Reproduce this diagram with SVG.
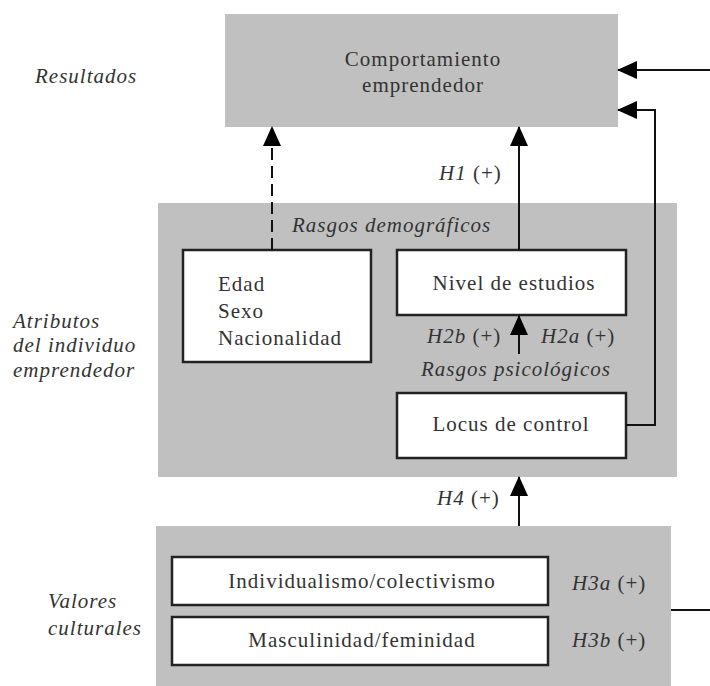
<svg xmlns="http://www.w3.org/2000/svg" width="710" height="686" viewBox="0 0 710 686" font-family="Liberation Serif, DejaVu Serif, serif">
<style>
text{font-size:21px;fill:#333;letter-spacing:1px}
.it{font-style:italic}
.grp{fill:#c0c0c0}
.box{fill:#fff;stroke:#222;stroke-width:2.5}
.ln{fill:none;stroke:#111;stroke-width:2}
.mid{text-anchor:middle}
</style>
<defs>
<marker id="ah" markerUnits="userSpaceOnUse" markerWidth="20" markerHeight="18" viewBox="0 0 20 18" refX="19" refY="9" orient="auto">
<path d="M0,0 L20,9 L0,18 Z" fill="#000"/>
</marker>
</defs>
<g id="labels">
<text class="it" x="35" y="83">Resultados</text>
<text class="it" x="13" y="328">Atributos</text>
<text class="it" x="13" y="352">del individuo</text>
<text class="it" x="13" y="377">emprendedor</text>
<text class="it" x="48" y="608">Valores</text>
<text class="it" x="48" y="635">culturales</text>
</g>
<g id="resultados">
<rect class="grp" x="225" y="14" width="393" height="113"/>
<text class="mid" x="423" y="66">Comportamiento</text>
<text class="mid" x="423" y="92">emprendedor</text>
</g>
<g id="atributos">
<rect class="grp" x="158" y="203" width="519" height="274"/>
<text class="it" x="292" y="232">Rasgos demográficos</text>
<text class="it" x="421" y="376">Rasgos psicológicos</text>
</g>
<g id="demograficos">
<rect class="box" x="183" y="250" width="188" height="112"/>
<text x="218" y="291">Edad</text>
<text x="218" y="318">Sexo</text>
<text x="218" y="345">Nacionalidad</text>
</g>
<g id="nivel">
<rect class="box" x="397" y="250" width="229" height="65"/>
<text class="mid" x="514" y="290">Nivel de estudios</text>
</g>
<g id="locus">
<rect class="box" x="397" y="393" width="229" height="65"/>
<text class="mid" x="511" y="431">Locus de control</text>
</g>
<g id="valores">
<rect class="grp" x="156" y="526" width="515" height="160"/>
</g>
<g id="individualismo">
<rect class="box" x="172" y="557" width="376" height="48"/>
<text class="mid" x="362" y="588">Individualismo/colectivismo</text>
</g>
<g id="masculinidad">
<rect class="box" x="172" y="617" width="376" height="48"/>
<text class="mid" x="362" y="647">Masculinidad/feminidad</text>
</g>
<g id="connectors">
<line class="ln" x1="710" y1="70" x2="618" y2="70" marker-end="url(#ah)"/>
<polyline class="ln" points="626,425 655,425 655,110 618,110" marker-end="url(#ah)"/>
<line class="ln" x1="272" y1="250" x2="272" y2="127" stroke-dasharray="12,6" marker-end="url(#ah)"/>
<line class="ln" x1="519" y1="250" x2="519" y2="127" marker-end="url(#ah)"/>
<line class="ln" x1="519" y1="354" x2="519" y2="316" marker-end="url(#ah)"/>
<line class="ln" x1="519" y1="526" x2="519" y2="477" stroke-width="4" marker-end="url(#ah)"/>
<line class="ln" x1="671" y1="610" x2="710" y2="610"/>
</g>
<g id="hyp">
<text class="it" x="439" y="180">H1 <tspan font-style="normal">(+)</tspan></text>
<text class="it" x="427" y="343">H2b <tspan font-style="normal">(+)</tspan></text>
<text class="it" x="541" y="343">H2a <tspan font-style="normal">(+)</tspan></text>
<text class="it" x="437" y="505">H4 <tspan font-style="normal">(+)</tspan></text>
<text class="it" x="572" y="590">H3a <tspan font-style="normal">(+)</tspan></text>
<text class="it" x="572" y="647">H3b <tspan font-style="normal">(+)</tspan></text>
</g>
</svg>
